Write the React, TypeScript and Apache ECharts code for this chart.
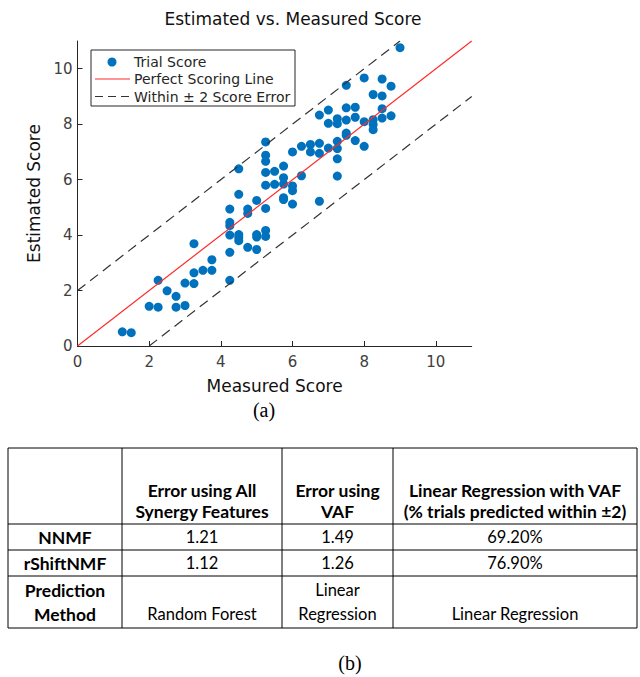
import React, { useEffect, useRef } from "react";
import * as echarts from "echarts";

// ---- scatter data (Measured, Estimated) ----
const measured = [1.25, 1.5, 2, 2.25, 2.25, 2.5, 2.75, 2.75, 3, 3, 3.25, 3.25, 3.25, 3.5, 3.75, 3.75, 4.25, 4.25, 4.25, 4.25, 4.25, 4.25, 4.5, 4.5, 4.5, 4.5, 4.5, 4.75, 4.75, 4.75, 5, 5, 5, 5, 5.25, 5.25, 5.25, 5.25, 5.25, 5.25, 5.25, 5.25, 5.5, 5.5, 5.75, 5.75, 5.75, 5.75, 5.75, 6, 6, 6, 6, 6.25, 6.25, 6.5, 6.5, 6.75, 6.75, 6.75, 6.75, 7, 7, 7, 7.25, 7.25, 7.25, 7.25, 7.25, 7.25, 7.5, 7.5, 7.5, 7.5, 7.5, 7.75, 7.75, 7.75, 8, 8, 8, 8.25, 8.25, 8.25, 8.25, 8.5, 8.5, 8.5, 8.5, 8.75, 8.75, 9];
const estimated = [0.51, 0.48, 1.43, 1.4, 2.37, 1.99, 1.79, 1.4, 1.46, 2.27, 2.25, 2.64, 3.69, 2.73, 2.73, 3.11, 2.37, 3.38, 4.0, 4.34, 4.46, 4.94, 3.8, 3.92, 4.02, 5.47, 6.39, 3.56, 4.78, 4.94, 3.48, 3.93, 4.02, 5.25, 3.95, 4.17, 4.96, 5.8, 6.26, 6.66, 6.88, 7.36, 5.83, 6.3, 5.28, 5.35, 5.84, 6.07, 6.49, 5.12, 5.6, 5.77, 7.0, 6.14, 7.2, 7.0, 7.27, 5.22, 6.95, 7.31, 8.33, 7.14, 8.03, 8.51, 6.13, 6.75, 7.12, 7.38, 8.02, 8.2, 7.6, 7.68, 8.15, 8.59, 9.4, 7.41, 8.25, 8.61, 7.2, 8.09, 9.67, 7.8, 7.99, 8.16, 9.07, 8.22, 8.56, 9.02, 9.63, 8.3, 9.37, 10.76];

// reference lines
const perfectLine = [[0, 0], [11, 11]];
const upperBound = [[0, 2], [9, 11]];
const lowerBound = [[2, 0], [11, 9]];

const xTicks = [0, 2, 4, 6, 8, 10];
const yTicks = [0, 2, 4, 6, 8, 10];
const axisRange = [0, 11];

const chartTitle = "Estimated vs. Measured Score";
const xName = "Measured Score";
const yName = "Estimated Score";
const legendLabels = ["Trial Score", "Perfect Scoring Line", "Within \u00b1 2 Score Error"];
const captionA = "(a)";
const captionB = "(b)";

// ---- table data ----
const tableColHeads = [
  ["Error using All", "Synergy Features"],
  ["Error using", "VAF"],
  ["Linear Regression with VAF", "(% trials predicted within \u00b12)"],
];
const tableRowHeads = ["NNMF", "rShiftNMF"];
const allFeatureError = ["1.21", "1.12"];
const vafError = ["1.49", "1.26"];
const withinTwoPct = ["69.20%", "76.90%"];
const methodHead = ["Prediction", "Method"];
const methodRow = [["Random Forest"], ["Linear", "Regression"], ["Linear Regression"]];

const BLUE = "#0072BD";
const AX = "#262626";
const FONT = "'DejaVu Sans', 'Open Sans', sans-serif";
const TFONT = "Lato, 'Open Sans', sans-serif";

function buildTable(): any[] {
  const els: any[] = [];
  const colX = [8, 122, 282, 393, 637];
  const rowY = [448, 524, 550, 576, 628];
  const line = (x1: number, y1: number, x2: number, y2: number) => ({
    type: "line",
    shape: { x1, y1, x2, y2 },
    style: { stroke: "#000", lineWidth: 1 },
    silent: true,
  });
  rowY.forEach((y) => els.push(line(colX[0], y, colX[colX.length - 1], y)));
  colX.forEach((x) => els.push(line(x, rowY[0], x, rowY[rowY.length - 1])));
  const txt = (s: string, x: number, y: number, bold: boolean) => ({
    type: "text",
    x,
    y,
    style: {
      text: s,
      font: bold ? `bold 17.5px ${TFONT}` : `16.5px ${TFONT}`,
      fill: "#000",
      textAlign: "center",
      textVerticalAlign: "middle",
      lineHeight: 18,
    },
    silent: true,
  });
  const cx = (i: number) => (colX[i] + colX[i + 1]) / 2;
  // header
  tableColHeads.forEach((lines, c) => {
    els.push(txt(lines[0], cx(c + 1), 490, true));
    els.push(txt(lines[1], cx(c + 1), 511, true));
  });
  const rowMid = [537, 563];
  tableRowHeads.forEach((h, r) => {
    els.push(txt(h, cx(0), rowMid[r], true));
    els.push(txt(allFeatureError[r], cx(1), rowMid[r], false));
    els.push(txt(vafError[r], cx(2), rowMid[r], false));
    els.push(txt(withinTwoPct[r], cx(3), rowMid[r], false));
  });
  els.push(txt(methodHead[0], cx(0), 590, true));
  els.push(txt(methodHead[1], cx(0), 614, true));
  methodRow.forEach((lines, c) => {
    if (lines.length === 1) {
      els.push(txt(lines[0], cx(c + 1), 614, false));
    } else {
      els.push(txt(lines[0], cx(c + 1), 590, false));
      els.push(txt(lines[1], cx(c + 1), 614, false));
    }
  });
  return els;
}

function buildLegend(): any[] {
  const bx = 91, by = 50, bw = 204, bh = 56;
  const rows = [62, 79, 96.5];
  return [
    {
      type: "rect",
      shape: { x: bx, y: by, width: bw, height: bh },
      style: { fill: "#fff", stroke: AX, lineWidth: 1 },
      z: 100,
    },
    { type: "circle", shape: { cx: 112, cy: rows[0], r: 4.5 }, style: { fill: BLUE }, z: 101 },
    {
      type: "line",
      shape: { x1: 95, y1: rows[1], x2: 130, y2: rows[1] },
      style: { stroke: "#ff2b2b", lineWidth: 1.2 },
      z: 101,
    },
    {
      type: "line",
      shape: { x1: 95, y1: rows[2], x2: 130, y2: rows[2] },
      style: { stroke: "#333", lineWidth: 1.2, lineDash: [8, 5] },
      z: 101,
    },
    ...legendLabels.map((l, i) => ({
      type: "text",
      x: 134,
      y: rows[i],
      style: {
        text: l,
        font: `14px ${FONT}`,
        fill: AX,
        textAlign: "left",
        textVerticalAlign: "middle",
        lineHeight: 15,
      },
      z: 101,
    })),
  ];
}

export default function App() {
  const ref = useRef<HTMLDivElement>(null);
  useEffect(() => {
    if (!ref.current) return;
    const chart = echarts.init(ref.current, null, { renderer: "svg" });
    const points = measured.map((m, i) => [m, estimated[i]]);
    const axisCommon = {
      type: "value",
      min: axisRange[0],
      max: axisRange[1],
      interval: 2,
      nameLocation: "middle",
      nameTextStyle: { fontFamily: FONT, fontSize: 17, color: "#111" },
      axisLine: { show: true, lineStyle: { color: AX, width: 1 } },
      axisTick: { show: true, inside: true, length: 5, lineStyle: { color: AX } },
      splitLine: { show: false },
    };
    chart.setOption({
      animation: false,
      backgroundColor: "#fff",
      title: {
        text: chartTitle,
        left: 288,
        textAlign: "center",
        top: 5,
        textStyle: { fontFamily: FONT, fontSize: 17, fontWeight: "normal", color: "#111" },
      },
      grid: { left: 77.5, right: 168.3, top: 41, bottom: 331, containLabel: false },
      xAxis: {
        ...axisCommon,
        name: xName,
        nameGap: 31,
        axisTick: { ...axisCommon.axisTick, customValues: xTicks },
        axisLabel: {
          customValues: xTicks,
          fontFamily: FONT,
          fontSize: 15,
          color: "#404040",
          margin: 8,
        },
      },
      yAxis: {
        ...axisCommon,
        name: yName,
        nameGap: 29,
        axisTick: { ...axisCommon.axisTick, customValues: yTicks },
        axisLabel: {
          customValues: yTicks,
          fontFamily: FONT,
          fontSize: 15,
          color: "#404040",
          margin: 5,
        },
      },
      series: [
        {
          type: "scatter",
          name: legendLabels[0],
          data: points,
          symbol: "circle",
          symbolSize: 9,
          itemStyle: { color: BLUE, opacity: 1 },
          z: 2,
        },
        {
          type: "line",
          name: legendLabels[1],
          data: perfectLine,
          showSymbol: false,
          lineStyle: { color: "#ff2b2b", width: 1.2 },
          z: 3,
        },
        {
          type: "line",
          name: legendLabels[2],
          data: upperBound,
          showSymbol: false,
          lineStyle: { color: "#333", width: 1.2, type: [10, 6] },
          z: 3,
        },
        {
          type: "line",
          name: legendLabels[2] + " ",
          data: lowerBound,
          showSymbol: false,
          lineStyle: { color: "#333", width: 1.2, type: [10, 6] },
          z: 3,
        },
      ],
      graphic: [
        ...buildLegend(),
        {
          type: "text",
          x: 264,
          y: 410,
          style: {
            text: captionA,
            font: "20px 'Liberation Serif', serif",
            fill: "#000",
            textAlign: "center",
            textVerticalAlign: "middle",
          },
        },
        ...buildTable(),
        {
          type: "text",
          x: 350,
          y: 663,
          style: {
            text: captionB,
            font: "20px 'Liberation Serif', serif",
            fill: "#000",
            textAlign: "center",
            textVerticalAlign: "middle",
          },
        },
      ],
    });
    return () => chart.dispose();
  }, []);
  return (
    <div
      ref={ref}
      style={{ position: "absolute", left: 0, top: 0, width: 640, height: 677 }}
    />
  );
}
